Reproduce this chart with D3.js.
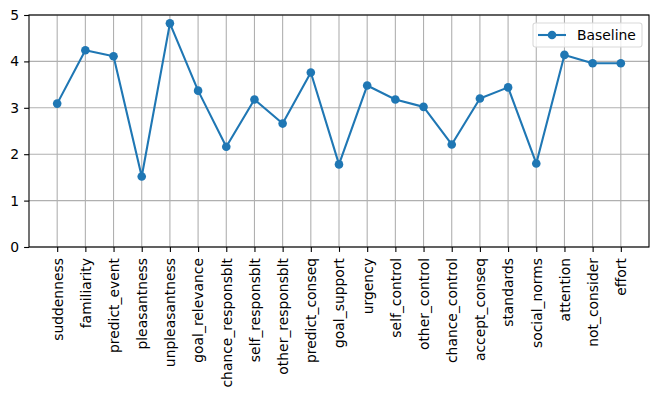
<!DOCTYPE html>
<html>
<head>
<meta charset="utf-8">
<script src="https://cdn.jsdelivr.net/npm/d3@7"></script>
<style>
  body { margin: 0; background: #fff; }
  text { font-family: "DejaVu Sans", sans-serif; }
</style>
</head>
<body>
<svg id="chart" width="658" height="395"></svg>
<script>
// appraisal dimensions along the x axis
var categories = ["suddenness", "familiarity", "predict_event", "pleasantness",
  "unpleasantness", "goal_relevance", "chance_responsblt", "self_responsblt",
  "other_responsblt", "predict_conseq", "goal_support", "urgency", "self_control",
  "other_control", "chance_control", "accept_conseq", "standards", "social_norms",
  "attention", "not_consider", "effort"];

var baseline = [3.09, 4.24, 4.11, 1.52, 4.82, 3.37, 2.16, 3.18, 2.66, 3.76,
  1.78, 3.48, 3.18, 3.02, 2.21, 3.20, 3.44, 1.80, 4.14, 3.96, 3.96];

var yTicks = [0, 1, 2, 3, 4, 5];

var data = categories.map(function(c, i) { return {name: c, i: i, v: baseline[i]}; });

var svg = d3.select("#chart"),
    margin = {top: 15, right: 9, bottom: 148, left: 29},
    width = +svg.attr("width") - margin.left - margin.right,
    height = +svg.attr("height") - margin.top - margin.bottom,
    g = svg.append("g").attr("transform", "translate(" + margin.left + "," + margin.top + ")");

var color = "#1f77b4";
var fontPx = "13.9px";

// matplotlib style: 5% padding either side of the category range
var x = d3.scaleLinear()
    .domain([-1, categories.length])
    .range([0, width]);

var y = d3.scaleLinear()
    .domain([0, 5])
    .range([height, 0]);

// grid
g.append("g")
  .selectAll("line")
  .data(data)
  .enter().append("line")
    .attr("x1", function(d) { return x(d.i); })
    .attr("x2", function(d) { return x(d.i); })
    .attr("y1", 0)
    .attr("y2", height)
    .attr("stroke", "#b0b0b0")
    .attr("stroke-width", 1.1);

g.append("g")
  .selectAll("line")
  .data(yTicks)
  .enter().append("line")
    .attr("x1", 0)
    .attr("x2", width)
    .attr("y1", function(d) { return y(d); })
    .attr("y2", function(d) { return y(d); })
    .attr("stroke", "#b0b0b0")
    .attr("stroke-width", 1.1);

// axes
var xAxis = g.append("g")
    .attr("transform", "translate(0," + height + ")")
    .call(d3.axisBottom(x)
      .tickValues(d3.range(categories.length))
      .tickFormat(function(i) { return categories[i]; })
      .tickSize(4.9)
      .tickPadding(4.9));
xAxis.select(".domain").remove();
xAxis.selectAll("text")
    .style("font-size", fontPx)
    .style("font-family", "DejaVu Sans")
    .attr("fill", "#000")
    .attr("transform", "rotate(-90)")
    .attr("text-anchor", "end")
    .attr("dy", "0.35em")
    .attr("x", -11)
    .attr("y", 0);

var yAxis = g.append("g")
    .call(d3.axisLeft(y).tickValues(yTicks).tickFormat(d3.format("d"))
      .tickSize(4.9).tickPadding(4.9));
yAxis.select(".domain").remove();
yAxis.selectAll("text")
    .style("font-size", fontPx)
    .style("font-family", "DejaVu Sans")
    .attr("fill", "#000");

g.selectAll(".tick line").attr("stroke", "#000").attr("stroke-width", 1.1);

// frame
g.append("rect")
    .attr("width", width)
    .attr("height", height)
    .attr("fill", "none")
    .attr("stroke", "#000")
    .attr("stroke-width", 1.1);

// series
var line = d3.line()
    .x(function(d) { return x(d.i); })
    .y(function(d) { return y(d.v); });

g.append("path")
    .datum(data)
    .attr("fill", "none")
    .attr("stroke", color)
    .attr("stroke-width", 2.1)
    .attr("stroke-linejoin", "round")
    .attr("d", line);

g.selectAll(".dot")
  .data(data)
  .enter().append("circle")
    .attr("class", "dot")
    .attr("cx", function(d) { return x(d.i); })
    .attr("cy", function(d) { return y(d.v); })
    .attr("r", 4.3)
    .attr("fill", color);

// legend
var lg = g.append("g").attr("transform", "translate(" + (width - 116) + ",8)");
lg.append("rect")
    .attr("width", 109)
    .attr("height", 24)
    .attr("rx", 2.5)
    .attr("fill", "#fff")
    .attr("fill-opacity", 0.8)
    .attr("stroke", "#d9d9d9")
    .attr("stroke-width", 1.1);
lg.append("line")
    .attr("x1", 5).attr("x2", 33)
    .attr("y1", 12).attr("y2", 12)
    .attr("stroke", color)
    .attr("stroke-width", 2.1);
lg.append("circle")
    .attr("cx", 19).attr("cy", 12).attr("r", 4.3)
    .attr("fill", color);
lg.append("text")
    .attr("x", 44)
    .attr("y", 12)
    .attr("dy", "0.35em")
    .style("font-size", fontPx)
    .attr("fill", "#000")
    .text("Baseline");
</script>
</body>
</html>
